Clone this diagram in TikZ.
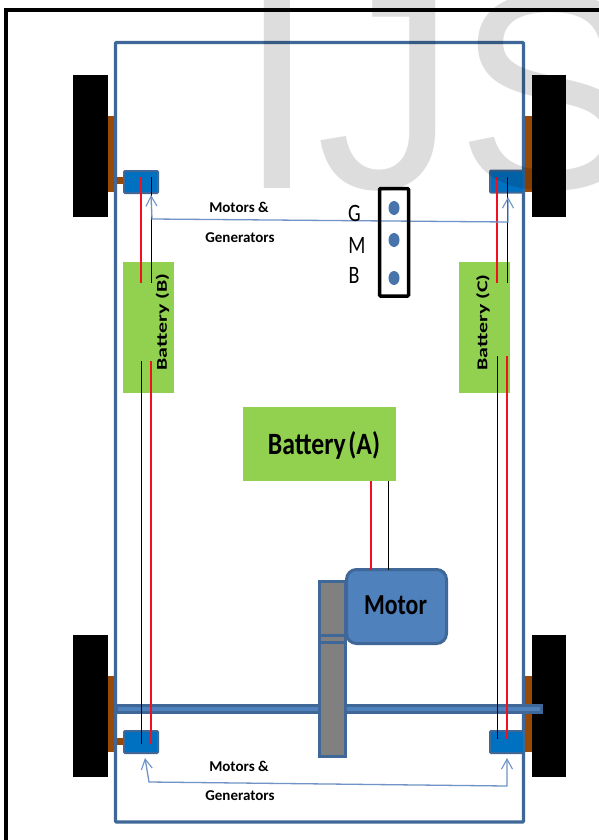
\documentclass[tikz,border=0pt]{standalone}
\usepackage{fontspec}
\usepackage{graphicx}
\setmainfont{Carlito}
\newfontfamily\wmfont{Liberation Sans}
\usetikzlibrary{arrows.meta}
\definecolor{edgeblue}{HTML}{3F6797}
\definecolor{motorblue}{HTML}{4F81BD}
\definecolor{unitblue}{HTML}{0070C0}
\definecolor{batgreen}{HTML}{92D050}
\definecolor{brownpart}{HTML}{984807}
\definecolor{wmgrey}{HTML}{DDDDDD}
\definecolor{linkblue}{HTML}{6F93C6}
\definecolor{wirered}{HTML}{F01020}
\tikzset{
  x=1pt,y=-1pt,
  wheel/.style={fill=black,draw=none},
  brownblock/.style={fill=brownpart,draw=none},
  unit/.style={fill=unitblue,draw=edgeblue,line width=2pt,rounded corners=1pt,minimum width=34pt,minimum height=22pt,inner sep=0pt},
  battery/.style={fill=batgreen,draw=none,inner sep=0pt},
  redwire/.style={color=wirered,line width=1.1pt},
  blackwire/.style={color=black,line width=1.1pt},
  barb/.tip={Straight Barb[length=10pt,width=11pt,line width=1.1pt]},
  link/.style={draw=linkblue,line width=1.3pt,barb-barb},
  lbl/.style={font=\bfseries\fontsize{15}{15}\selectfont,inner sep=0pt,text=black},
  batlbl/.style={rotate=90,font=\bfseries\fontsize{15}{15}\selectfont,inner sep=0pt},
  sw/.style={font=\fontsize{25}{25}\selectfont,inner sep=0pt},
  dot/.style={fill=motorblue!90!black,draw=none},
}
\begin{document}
\begin{tikzpicture}
\useasboundingbox (0,0) rectangle (599,840);
\fill[white] (0,0) rectangle (599,840);
\draw[black,line width=4pt] (5.5,840) -- (5.5,10) -- (599,10);
% brown
\fill[brownblock] (107,116) rectangle (116,192);
\fill[brownblock] (115,177) rectangle (124,184);
\fill[brownblock] (107,676) rectangle (116,752);
\fill[brownblock] (115,738) rectangle (124,745);
\fill[brownblock] (523,116) rectangle (533,192);
\fill[brownblock] (523,676) rectangle (533,752);
% chassis
\draw[edgeblue,line width=3.2pt,rounded corners=1pt] (115.5,42.5) rectangle (523.5,822);
% wheels
\fill[wheel] (73,75) rectangle (108,217);
\fill[wheel] (532,75) rectangle (566,217);
\fill[wheel] (73,635) rectangle (108,777);
\fill[wheel] (532,635) rectangle (566,777);
% batteries
\node[battery,minimum width=51pt,minimum height=131pt] (batB) at (148.5,327.5) {};
\node[batlbl] (txtB) at (162.5,322) {\scalebox{1.46}[1]{Battery (B)}};
\node[battery,minimum width=51pt,minimum height=131pt] (batC) at (484.5,327.5) {};
\node[batlbl] (txtC) at (483,322.5) {\scalebox{1.46}[1]{Battery (C)}};
\node[battery,minimum width=153pt,minimum height=74pt] (batA) at (319.5,444) {};
\node[font=\bfseries\fontsize{31}{31}\selectfont,inner sep=0pt] (txtA) at (324,445) {\scalebox{0.83}[1]{Battery\hspace{0.1em}(A)}};
% axle
\draw[edgeblue,fill=motorblue,line width=3pt] (116,705.5) rectangle (541.5,712.5);
% gear
\draw[edgeblue,fill=gray,line width=3pt] (319.5,581.5) rectangle (345.5,756.5);
\draw[edgeblue,line width=3pt] (319.5,635.5) -- (345.5,635.5);
\draw[edgeblue,line width=3pt] (319.5,642) -- (345.5,642);
% motor
\node[draw=edgeblue,fill=motorblue,line width=3pt,rounded corners=10pt,minimum width=100pt,minimum height=74pt,inner sep=0pt] (motor) at (396.5,606.5) {};
\node[font=\bfseries\fontsize{29}{29}\selectfont,inner sep=0pt] (motortxt) at (395.5,605) {\scalebox{0.82}[1]{Motor}};
% motor units
\node[unit] (ul) at (141,182) {};
\node[unit] (ur) at (507,181.5) {};
\node[unit] (ll) at (141,742) {};
\node[unit] (lr) at (507,742) {};
% wires
\draw[redwire] (141,177) -- (141,283);
\draw[blackwire] (151.5,177) -- (151.5,283);
\draw[blackwire] (141.5,361) -- (141.5,744);
\draw[redwire] (151,361) -- (151,744);
\draw[redwire] (497,177) -- (497,283);
\draw[blackwire] (507.5,177) -- (507.5,283);
\draw[blackwire] (497.5,356) -- (497.5,739);
\draw[redwire] (507,356) -- (507,739);
\draw[redwire] (371,481) -- (371,570);
\draw[blackwire] (388.5,481) -- (388.5,570);
% links
\coordinate (a1) at (151,195);
\coordinate (a2) at (508,197);
\draw[link] (a1) -- (152,219) -- (508,222) -- (a2);
\coordinate (b1) at (145,758);
\coordinate (b2) at (507,758);
\draw[link] (b1) -- (149,782) -- (507,786) -- (b2);
\node[lbl] (m1) at (239,207) {Motors \&};
\node[lbl] (g1) at (240,238) {Generators};
\node[lbl] (m2) at (239,766) {Motors \&};
\node[lbl] (g2) at (240,796) {Generators};
% switch
\draw[black,line width=3.5pt,rounded corners=1pt] (379.5,188.5) rectangle (408.5,296);
\fill[dot] (394,208) ellipse (5.5pt and 7pt);
\fill[dot] (394,240) ellipse (5.5pt and 7pt);
\fill[dot] (394,278) ellipse (5.5pt and 7pt);
\node[sw] (G) at (354.5,213.5) {\scalebox{0.8}[1]{G}};
\node[sw] (M) at (357,245) {\scalebox{0.8}[1]{M}};
\node[sw] (B) at (354,275) {\scalebox{0.8}[1]{B}};
% watermark, laid over everything
\begin{scope}[blend mode=multiply]
\node[anchor=base west,inner sep=0pt,text=wmgrey,font=\wmfont\fontsize{280}{280}\selectfont] (wm) at (238,188) {IJS};
\end{scope}
\end{tikzpicture}
\end{document}
